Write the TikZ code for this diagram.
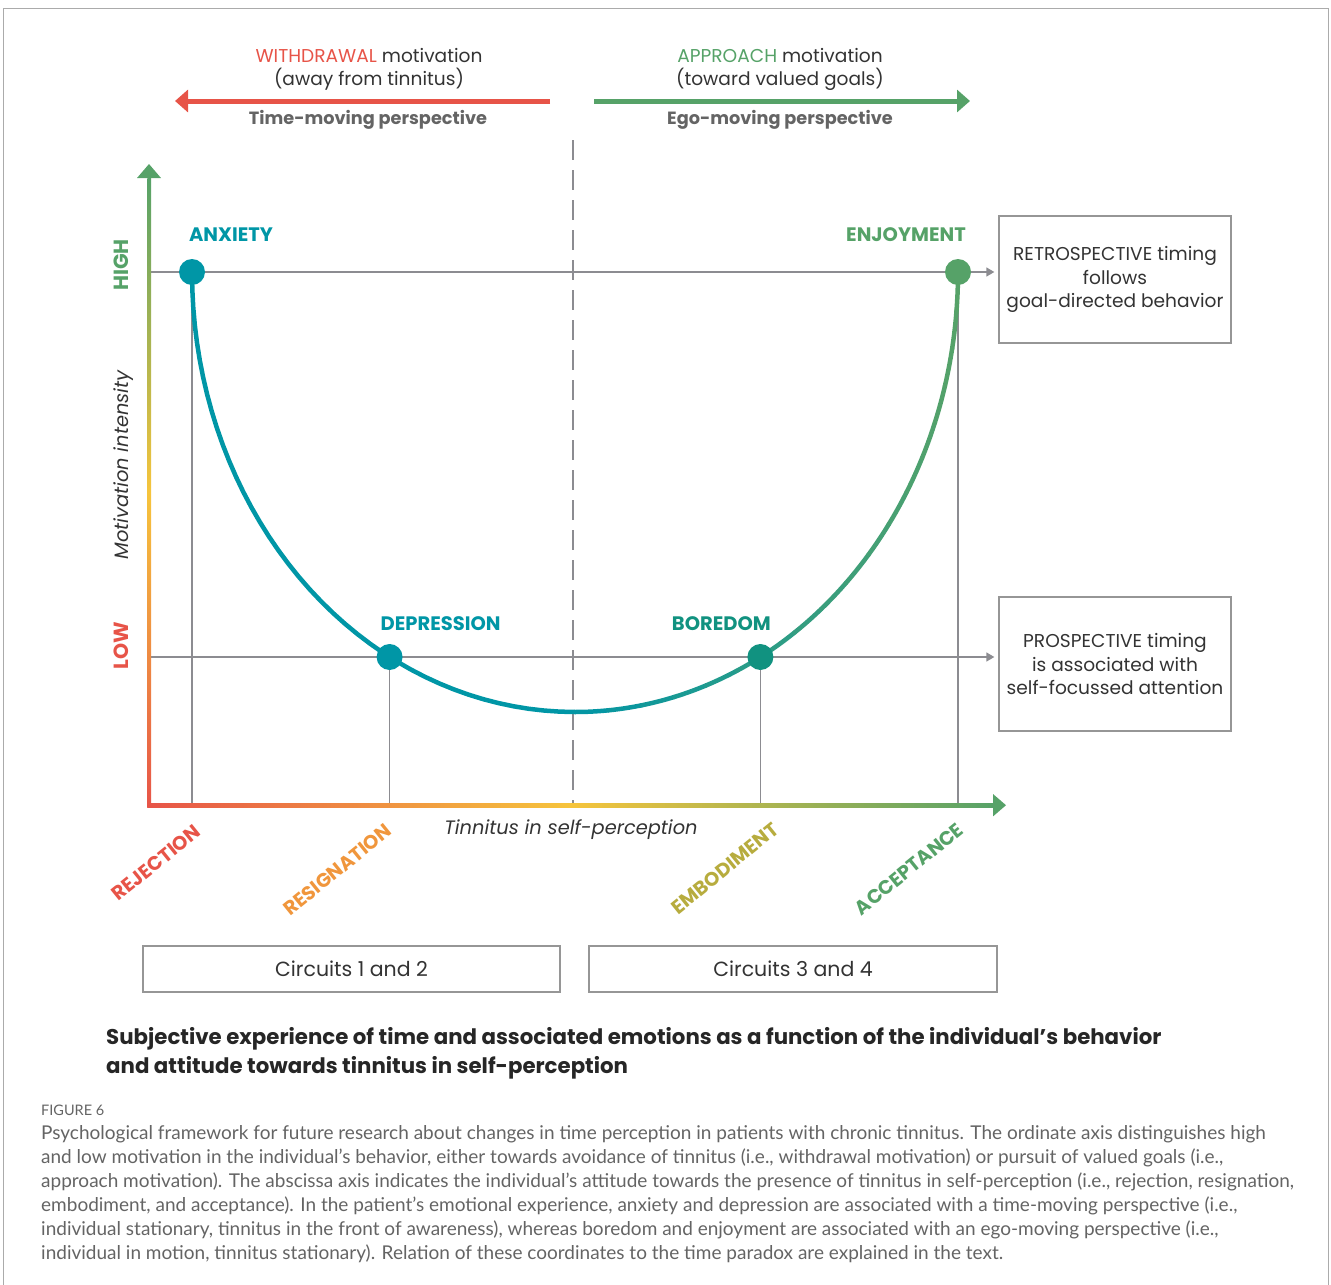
\documentclass[tikz,border=0pt]{standalone}
\usepackage{fontspec}
\setmainfont{Poppins}
\newfontfamily\capfont{Lato}
\usepackage{tikz}
\usetikzlibrary{arrows.meta, positioning, shapes}
\usepackage{xcolor}

\definecolor{wdred}{RGB}{231,84,72}
\definecolor{apgreen}{RGB}{86,162,104}
\definecolor{emoteal}{RGB}{0,150,166}
\definecolor{borteal}{RGB}{17,146,128}
\definecolor{axyellow}{RGB}{246,196,60}
\definecolor{axorange}{RGB}{240,150,60}
\definecolor{embolive}{RGB}{183,172,62}
\definecolor{guidegray}{RGB}{140,140,145}
\definecolor{boxgray}{RGB}{150,150,150}
\definecolor{txtgray}{RGB}{100,100,100}

\begin{document}
\begin{tikzpicture}[
  x=1pt, y=-1pt,
  every node/.style={inner sep=0pt},
  guide/.style  ={guidegray, line width=1.4pt},
  emo/.style    ={font=\fontsize{19.5}{22}\selectfont\bfseries},
  dot/.style    ={circle, minimum size=26pt, inner sep=0pt},
  infobox/.style={draw=boxgray, line width=1.3pt, font=\fontsize{18.6}{23.5}\selectfont, align=center, text=black!80},
  circbox/.style={infobox, minimum height=46pt, font=\fontsize{20.5}{23}\selectfont},
  attitude/.style={font=\fontsize{19.5}{22}\selectfont\bfseries, rotate=39, anchor=east},
  headtxt/.style={font=\fontsize{18.6}{23.5}\selectfont, align=center, text=black!80},
  persp/.style  ={font=\fontsize{17.7}{20}\selectfont\bfseries, text=txtgray},
  axlab/.style  ={font=\fontsize{20.5}{22}\selectfont\bfseries, rotate=90},
  axname/.style ={font=\fontsize{19.4}{22}\selectfont\itshape, text=black!80},
  curve/.style  ={line width=4.5pt, line cap=round}
]
\useasboundingbox (0,0) rectangle (1331,1285);

% frame
\draw[boxgray!80, line width=1pt] (3,1285) -- (3,8) -- (1328,8) -- (1328,1285);

% header
\node[headtxt] (wd) at (369,69.5) {\textcolor{wdred}{WITHDRAWAL} motivation\\(away from tinnitus)};
\node[headtxt] (ap) at (780,69.5) {\textcolor{apgreen}{APPROACH} motivation\\(toward valued goals)};
\coordinate (wdstart) at (550,101);
\coordinate (wdtip)   at (175,101);
\coordinate (apstart) at (594,101);
\coordinate (aptip)   at (970,101);
\draw[wdred, line width=5pt, -{Triangle[length=13pt,width=22pt]}] (wdstart) -- (wdtip);
\draw[apgreen, line width=5pt, -{Triangle[length=13pt,width=22pt]}] (apstart) -- (aptip);
\node[persp] (tm) at (368,120) {Time-moving perspective};
\node[persp] (em) at (780,120) {Ego-moving perspective};

% right boxes and circuits
\node[infobox, minimum width=232pt, minimum height=127pt] (retro) at (1115,279.5)
  {RETROSPECTIVE timing\\follows\\goal-directed behavior};
\node[infobox, minimum width=232pt, minimum height=134pt] (pros) at (1115,664)
  {PROSPECTIVE timing\\is associated with\\self-focussed attention};
\node[circbox, minimum width=417pt] (c12) at (351.5,969) {Circuits 1 and 2};
\node[circbox, minimum width=408pt] (c34) at (793,969) {Circuits 3 and 4};

% dashed divide
\coordinate (dtop) at (573,140);
\coordinate (dbot) at (573,805);
\draw[guide, dash pattern=on 20pt off 10pt] (dtop) -- (dbot);

% guides
\coordinate (O)  at (149,805);
\coordinate (hi) at (149,272);
\coordinate (lo) at (149,657);
\coordinate (pa) at (192,272);
\coordinate (pd) at ({575-383*0.4841},657);
\coordinate (pb) at ({575+383*0.4841},657);
\coordinate (pe) at (958,272);
\draw[guide, -{Triangle[length=8pt,width=9pt]}] (hi) -- ([xshift=-4pt]hi -| retro.west);
\draw[guide, -{Triangle[length=8pt,width=9pt]}] (lo) -- ([xshift=-4pt]lo -| pros.west);
\foreach \p in {pa,pd,pb,pe}
  \draw[guide] (\p) -- (\p |- O);

% axes
\shade[bottom color=wdred, top color=apgreen, middle color=axyellow] (147.3,178) rectangle (151,807);
\fill[apgreen] (149,164) -- (137,178) -- (161,178) -- cycle;
\shade[left color=wdred, right color=apgreen, middle color=axyellow] (147.3,803.3) rectangle (994,807);
\fill[apgreen] (1006,805.2) -- (993,794) -- (993,816.4) -- cycle;

\node[axlab, text=apgreen] (high) at (121,265) {HIGH};
\node[axlab, text=wdred] (low) at (121,646) {LOW};
\node[axname, rotate=90] (mi) at (124,465) {Motivation intensity};
\node[axname] (tsp) at (571,830) {Tinnitus in self-perception};

% u-curve
\draw[curve, emoteal] plot[domain=180:90, samples=40] ({575+383*cos(\x)},{272+440*sin(\x)});
\foreach \a in {90,85,...,5}{
  \pgfmathsetmacro\mixp{100*cos(\a-2.5)}
  \pgfmathsetmacro\b{\a-5}
  \draw[curve, apgreen!\mixp!emoteal] plot[domain=\a:\b, samples=6] ({575+383*cos(\x)},{272+440*sin(\x)});
}

% emotions
\node[dot, fill=emoteal]  (anx) at (pa) {};
\node[dot, fill=emoteal]  (dep) at (pd) {};
\node[dot, fill=borteal]  (bor) at (pb) {};
\node[dot, fill=apgreen]  (enj) at (pe) {};
\node[emo, text=emoteal, above=17pt of anx, xshift=39pt]  (anxl) {ANXIETY};
\node[emo, text=emoteal, above=13pt of dep, xshift=51pt]  (depl) {DEPRESSION};
\node[emo, text=borteal, above=13pt of bor, xshift=-39pt] (borl) {BOREDOM};
\node[emo, text=apgreen, above=17pt of enj, xshift=-52pt] (enjl) {ENJOYMENT};

% attitudes
\node[attitude, text=wdred]    (rej) at (198,829) {REJECTION};
\node[attitude, text=axorange] (res) at (389,828) {RESIGNATION};
\node[attitude, text=embolive] (emb) at (776,827) {EMBODIMENT};
\node[attitude, text=apgreen]  (acc) at (961,827) {ACCEPTANCE};

% title and caption
\node[anchor=north west, align=left, font=\fontsize{21.3}{29}\selectfont\bfseries, text=black!85] (title) at (106,1027)
  {Subjective experience of time and associated emotions as a function of the individual’s behavior\\
   and attitude towards tinnitus in self-perception};
\node[anchor=west, font=\capfont\fontsize{14.5}{16}\selectfont, text=txtgray] (fig) at (41,1110) {FIGURE 6};
\node[anchor=north west, align=left, font=\capfont\fontsize{19}{24}\selectfont, text=txtgray] (cap) at (41,1125)
  {Psychological framework for future research about changes in time perception in patients with chronic tinnitus. The ordinate axis distinguishes high\\
   and low motivation in the individual’s behavior, either towards avoidance of tinnitus (i.e., withdrawal motivation) or pursuit of valued goals (i.e.,\\
   approach motivation). The abscissa axis indicates the individual’s attitude towards the presence of tinnitus in self-perception (i.e., rejection, resignation,\\
   embodiment, and acceptance). In the patient’s emotional experience, anxiety and depression are associated with a time-moving perspective (i.e.,\\
   individual stationary, tinnitus in the front of awareness), whereas boredom and enjoyment are associated with an ego-moving perspective (i.e.,\\
   individual in motion, tinnitus stationary). Relation of these coordinates to the time paradox are explained in the text.};
\end{tikzpicture}
\end{document}
